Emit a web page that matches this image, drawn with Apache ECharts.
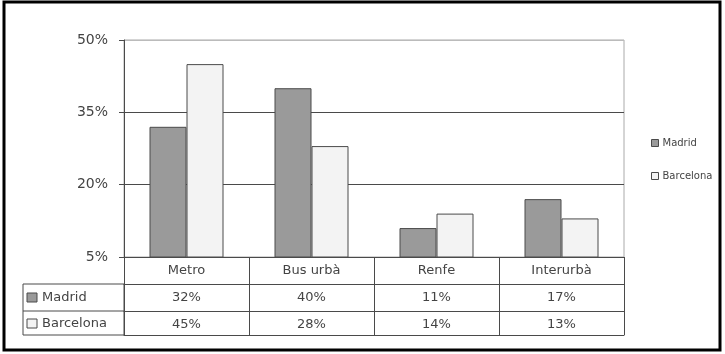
<!DOCTYPE html>
<html>
<head>
<meta charset="utf-8">
<script src="https://cdn.jsdelivr.net/npm/echarts@6/dist/echarts.min.js"></script>
<style>
  html, body { margin: 0; padding: 0; background: #fff; }
  #chart { width: 725px; height: 354px; }
</style>
</head>
<body>
<div id="chart"></div>
<script>
// data
const categories = ['Metro', 'Bus urbà', 'Renfe', 'Interurbà']
const madrid = [32, 40, 11, 17]
const barcelona = [45, 28, 14, 13]
const seriesNames = ['Madrid', 'Barcelona']
const yTicks = { min: 5, max: 50, interval: 15 }

const FONT = 'DejaVu Sans, sans-serif'
const C_MADRID = '#9a9a9a'
const C_BARNA = '#f3f3f3'
const C_EDGE = '#4a4a4a'
const C_TEXT = '#444'

const chart = echarts.init(document.getElementById('chart'))

const pct = v => v + '%'

// grid box (layout only)
const G = { left: 124, right: 101, top: 40, bottom: 97 }
const gridBottomY = 354 - G.bottom
const rowH = 27

function tableAxis(data, offset, showLabel) {
  return {
    type: 'category',
    position: 'bottom',
    offset: offset,
    data: data,
    axisLine: { show: true, lineStyle: { color: C_EDGE, width: 1 } },
    axisTick: { show: false },
    axisLabel: { show: showLabel, margin: 7, fontSize: 13, color: C_TEXT, fontFamily: FONT },
    splitLine: { show: false }
  }
}

chart.setOption({
  animation: false,
  backgroundColor: '#fff',
  grid: {
    left: G.left, right: G.right, top: G.top, bottom: G.bottom,
    show: true, borderColor: '#aaa', borderWidth: 1, backgroundColor: '#fff'
  },
  legend: {
    orient: 'vertical',
    left: 646, top: 133,
    icon: 'rect',
    itemWidth: 7, itemHeight: 7, itemGap: 23,
    data: seriesNames,
    itemStyle: { borderWidth: 1, borderColor: C_EDGE },
    textStyle: { fontSize: 10, color: C_TEXT, fontFamily: FONT, padding: [0, 0, 0, -1] }
  },
  xAxis: [
    {
      type: 'category',
      position: 'bottom',
      data: categories,
      axisLine: { show: true, lineStyle: { color: C_EDGE, width: 1 } },
      axisTick: { show: true, length: 78, lineStyle: { color: C_EDGE, width: 1 } },
      axisLabel: { margin: 7, fontSize: 13, color: C_TEXT, fontFamily: FONT },
      splitLine: { show: false }
    },
    tableAxis(madrid.map(pct), rowH, true),
    tableAxis(barcelona.map(pct), rowH * 2, true),
    tableAxis(categories, 78, false)
  ],
  yAxis: {
    type: 'value',
    min: yTicks.min, max: yTicks.max, interval: yTicks.interval,
    axisLine: { show: true, lineStyle: { color: C_EDGE, width: 1 } },
    axisTick: { show: true, length: 5, lineStyle: { color: C_EDGE } },
    axisLabel: { formatter: '{value}%', fontSize: 14, color: C_TEXT, margin: 16, fontFamily: FONT },
    splitLine: { show: true, lineStyle: { color: ['#4a4a4a', '#4a4a4a', '#4a4a4a', '#bbb'], width: 1 } }
  },
  series: [
    {
      name: seriesNames[0], type: 'bar', data: madrid,
      barWidth: 37, barGap: 0,
      itemStyle: { color: C_MADRID, borderColor: C_EDGE, borderWidth: 1 }
    },
    {
      name: seriesNames[1], type: 'bar', data: barcelona,
      barWidth: 37,
      itemStyle: { color: C_BARNA, borderColor: C_EDGE, borderWidth: 1 }
    }
  ],
  graphic: [
    // outer frame
    { type: 'rect', shape: { x: 4, y: 2, width: 716, height: 348 },
      style: { fill: 'none', stroke: '#000', lineWidth: 3 }, silent: true },
    // left column of the data table
    { type: 'rect', shape: { x: 23, y: gridBottomY + rowH, width: G.left - 23, height: 78 - rowH },
      style: { fill: 'none', stroke: C_EDGE, lineWidth: 1 }, silent: true },
    { type: 'line', shape: { x1: 23, y1: gridBottomY + rowH * 2, x2: G.left, y2: gridBottomY + rowH * 2 },
      style: { stroke: C_EDGE, lineWidth: 1 }, silent: true },
    { type: 'rect', shape: { x: 27, y: gridBottomY + rowH + 9, width: 10, height: 9 },
      style: { fill: C_MADRID, stroke: C_EDGE, lineWidth: 1 }, silent: true },
    { type: 'text', x: 42, y: gridBottomY + rowH + 14,
      style: { text: seriesNames[0], fontSize: 13, fill: C_TEXT, fontFamily: FONT, verticalAlign: 'middle' }, silent: true },
    { type: 'rect', shape: { x: 27, y: gridBottomY + rowH * 2 + 8, width: 10, height: 9 },
      style: { fill: C_BARNA, stroke: C_EDGE, lineWidth: 1 }, silent: true },
    { type: 'text', x: 42, y: gridBottomY + rowH * 2 + 13,
      style: { text: seriesNames[1], fontSize: 13, fill: C_TEXT, fontFamily: FONT, verticalAlign: 'middle' }, silent: true }
  ]
})
</script>
</body>
</html>
